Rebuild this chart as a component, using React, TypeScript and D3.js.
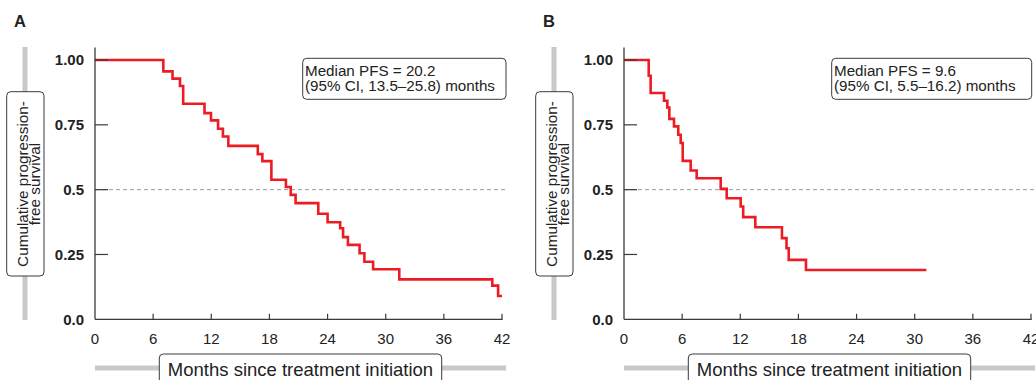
import * as d3 from "d3"

// shared axes
const monthTicks = [0, 6, 12, 18, 24, 30, 36, 42]
const survivalTicks = [0, 0.25, 0.5, 0.75, 1]
const survivalTickLabels = ["0.0", "0.25", "0.5", "0.75", "1.00"]

// panel A: Kaplan-Meier steps (month of event, survival after event)
const monthsA = [0, 7.05, 8.0, 8.77, 9.1, 11.3, 11.97, 12.7, 13.2, 13.76, 16.8, 17.27, 18.2, 19.7, 20.2, 20.7, 23.04, 24.0, 25.3, 25.6, 26.1, 27.3, 27.8, 28.7, 31.4, 41.0, 41.6]
const survivalA = [1, 0.956, 0.928, 0.9, 0.831, 0.795, 0.767, 0.735, 0.705, 0.669, 0.637, 0.61, 0.538, 0.51, 0.48, 0.448, 0.407, 0.374, 0.351, 0.317, 0.287, 0.255, 0.222, 0.193, 0.154, 0.13, 0.09]
const lastFollowUpA = 42

// panel B
const monthsB = [0, 2.55, 2.75, 4.13, 4.47, 4.68, 5.16, 5.6, 5.85, 6.06, 6.88, 7.5, 9.98, 10.6, 12.04, 12.3, 13.55, 16.3, 16.77, 17.0, 18.78]
const survivalB = [1, 0.939, 0.873, 0.843, 0.817, 0.773, 0.744, 0.712, 0.68, 0.611, 0.574, 0.544, 0.503, 0.467, 0.435, 0.394, 0.355, 0.313, 0.274, 0.229, 0.19]
const lastFollowUpB = 31.2

const panelLetters = ["A", "B"]
const medianLines = [
  ["Median PFS = 20.2", "(95% CI, 13.5–25.8) months"],
  ["Median PFS = 9.6", "(95% CI, 5.5–16.2) months"],
]

const font = "'Liberation Sans', Arial, Helvetica, sans-serif"
const axisColor = "#3a3a3a"
const barGrey = "#c8c8c8"
const red = "#ec1c24"

type PanelProps = {
  offset: number
  letter: string
  months: number[]
  survival: number[]
  end: number
  median: string[]
  boxWidth: number
}

function Panel({ offset, letter, months, survival, end, median, boxWidth }: PanelProps) {
  const x = d3.scaleLinear().domain([0, 42]).range([95, 502])
  const y = d3.scaleLinear().domain([0, 1]).range([319.3, 60])

  const pts: [number, number][] = months.map((m, i) => [m, survival[i]])
  pts.push([end, survival[survival.length - 1]])
  const line = d3
    .line<[number, number]>()
    .x((d) => x(d[0]))
    .y((d) => y(d[1]))
    .curve(d3.curveStepAfter)

  const x0 = x(0)
  const y0 = y(0)

  return (
    <g transform={`translate(${offset},0)`} fontFamily={font}>
      <text x={14} y={27} fontSize={16.5} fontWeight="bold" fill="#222">
        {letter}
      </text>

      {/* y title with grey bar */}
      <line x1={25} x2={25} y1={47} y2={320} stroke={barGrey} strokeWidth={5} />
      <rect x={6.7} y={91.7} width={37.3} height={184.3} rx={4} fill="white" stroke={axisColor} strokeWidth={1} />
      <text transform="translate(27.5,184) rotate(-90)" textAnchor="middle" fontSize={15.3} fill="#222">
        Cumulative progression-
      </text>
      <text transform="translate(39.5,184) rotate(-90)" textAnchor="middle" fontSize={15.3} fill="#222">
        free survival
      </text>

      {/* x title with grey bar */}
      <line x1={95} x2={506} y1={368} y2={368} stroke={barGrey} strokeWidth={5} />
      <rect x={159.3} y={354} width={282.4} height={34} rx={4} fill="white" stroke={axisColor} strokeWidth={1} />
      <text x={300.5} y={376} textAnchor="middle" fontSize={18.5} fill="#222">
        Months since treatment initiation
      </text>

      {/* median box */}
      <rect x={302.7} y={58.3} width={boxWidth} height={41} rx={4} fill="white" stroke={axisColor} strokeWidth={1} />
      {median.map((t, i) => (
        <text key={i} x={305} y={75.5 + i * 15.5} fontSize={15.2} fill="#222">
          {t}
        </text>
      ))}

      {/* reference line at 0.5 */}
      <line x1={x0} x2={506} y1={y(0.5)} y2={y(0.5)} stroke="#9a9a9a" strokeWidth={1} strokeDasharray="4,3" />

      <path d={line(pts) ?? ""} fill="none" stroke={red} strokeWidth={2.6} />

      {/* axes */}
      <line x1={x0} x2={x0} y1={47.5} y2={y0} stroke={axisColor} strokeWidth={1.3} />
      <line x1={x0} x2={x(42) + 0.7} y1={y0} y2={y0} stroke={axisColor} strokeWidth={1.3} />
      {survivalTicks.map((v, i) => (
        <g key={v}>
          {v > 0 && <line x1={x0} x2={x0 + 13} y1={y(v)} y2={y(v)} stroke={axisColor} strokeWidth={1.2} />}
          <text x={84} y={y(v)} dy="0.36em" textAnchor="end" fontSize={15} fontWeight="bold" fill="#222">
            {survivalTickLabels[i]}
          </text>
        </g>
      ))}
      {monthTicks.map((m) => (
        <g key={m}>
          {m > 0 && <line x1={x(m)} x2={x(m)} y1={y0} y2={y0 - 5.5} stroke={axisColor} strokeWidth={1.2} />}
          <text x={x(m)} y={344} textAnchor="middle" fontSize={15} fill="#222">
            {m}
          </text>
        </g>
      ))}
    </g>
  )
}

export default function App() {
  return (
    <svg width={1036} height={380} style={{ position: "absolute", left: 0, top: 0, background: "white" }}>
      <Panel
        offset={0}
        letter={panelLetters[0]}
        months={monthsA}
        survival={survivalA}
        end={lastFollowUpA}
        median={medianLines[0]}
        boxWidth={203.3}
      />
      <Panel
        offset={529}
        letter={panelLetters[1]}
        months={monthsB}
        survival={survivalB}
        end={lastFollowUpB}
        median={medianLines[1]}
        boxWidth={200}
      />
    </svg>
  )
}
